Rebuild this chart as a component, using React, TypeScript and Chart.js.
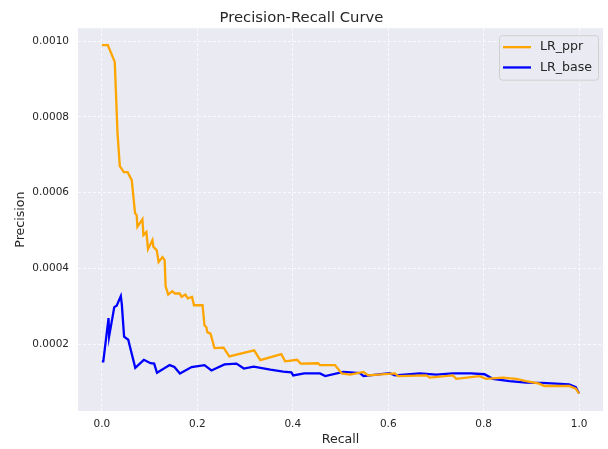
import React, { useEffect, useRef } from "react";
import { Chart, registerables } from "chart.js";

Chart.register(...registerables);

const recallPpr = [0, 0.0125, 0.027, 0.0328, 0.0376, 0.046, 0.054, 0.0626, 0.0695, 0.073, 0.0745, 0.085, 0.087, 0.0933, 0.0967, 0.106, 0.108, 0.115, 0.119, 0.127, 0.1315, 0.1336, 0.139, 0.1476, 0.153, 0.163, 0.167, 0.175, 0.18, 0.189, 0.193, 0.211, 0.215, 0.219, 0.221, 0.2276, 0.236, 0.255, 0.267, 0.319, 0.332, 0.376, 0.384, 0.409, 0.4165, 0.453, 0.457, 0.4885, 0.5025, 0.52, 0.548, 0.558, 0.614, 0.621, 0.68, 0.687, 0.7355, 0.7426, 0.791, 0.805, 0.84, 0.868, 0.889, 0.9165, 0.927, 0.979, 0.993, 1.0];
const precisionPpr = [0.000989, 0.000989, 0.000945, 0.000757, 0.00067, 0.000654, 0.000654, 0.000633, 0.000546, 0.00054, 0.00051, 0.00053, 0.000488, 0.000496, 0.000451, 0.000475, 0.000457, 0.000448, 0.000417, 0.00043, 0.000422, 0.000353, 0.000331, 0.00034, 0.000334, 0.000334, 0.000325, 0.000331, 0.000321, 0.000325, 0.000303, 0.000303, 0.00025, 0.000245, 0.000232, 0.000228, 0.00019, 0.000191, 0.000168, 0.000184, 0.000158, 0.000174, 0.000155, 0.000159, 0.000149, 0.00015, 0.000145, 0.000145, 0.000123, 0.00012, 0.000127, 0.000118, 0.000123, 0.000116, 0.000118, 0.000112, 0.000118, 0.000109, 0.000116, 0.000109, 0.000112, 0.000109, 0.000103, 0.000096, 0.00009, 0.00009, 0.000083, 0.00007];

const recallBase = [0, 0.003, 0.014, 0.0152, 0.026, 0.031, 0.0397, 0.0418, 0.0466, 0.0553, 0.059, 0.07, 0.088, 0.102, 0.1096, 0.1155, 0.142, 0.152, 0.1635, 0.188, 0.215, 0.2296, 0.257, 0.282, 0.2975, 0.318, 0.353, 0.38, 0.397, 0.401, 0.424, 0.457, 0.468, 0.506, 0.541, 0.548, 0.603, 0.614, 0.666, 0.701, 0.7355, 0.774, 0.8017, 0.819, 0.854, 0.889, 0.923, 0.979, 0.993, 1.0];
const precisionBase = [0.000155, 0.000155, 0.000269, 0.000221, 0.000298, 0.000302, 0.000327, 0.000306, 0.00022, 0.000212, 0.000193, 0.000138, 0.000159, 0.00015, 0.000149, 0.000125, 0.000145, 0.00014, 0.000123, 0.00014, 0.000145, 0.000131, 0.000147, 0.000149, 0.000136, 0.000141, 0.000133, 0.000128, 0.000126, 0.000118, 0.000123, 0.000123, 0.000116, 0.000127, 0.000124, 0.000116, 0.000124, 0.000118, 0.000123, 0.00012, 0.000123, 0.000123, 0.000121, 0.000109, 0.000103, 0.000099, 0.000098, 0.000094, 0.000087, 0.00007];

const xTicks = [0, 0.2, 0.4, 0.6, 0.8, 1.0];
const yTicks = [0.0002, 0.0004, 0.0006, 0.0008, 0.001];
const seriesLabels = ["LR_ppr", "LR_base"];
const seriesColors = ["#FFA500", "#0000FF"];

const FONT = "'DejaVu Sans', sans-serif";
const TEXT = "#262626";

const bgPlugin = {
  id: "bgPlugin",
  beforeDraw(chart: any) {
    const { ctx, chartArea } = chart;
    ctx.save();
    ctx.fillStyle = "#ffffff";
    ctx.fillRect(0, 0, chart.width, chart.height);
    ctx.fillStyle = "#EAEAF2";
    ctx.fillRect(chartArea.left, chartArea.top, chartArea.right - chartArea.left, chartArea.bottom - chartArea.top);
    ctx.restore();
  },
};

const legendPlugin = {
  id: "boxLegend",
  afterDatasetsDraw(chart: any) {
    const { ctx, chartArea } = chart;
    const w = 99;
    const h = 44.5;
    const x0 = chartArea.right - 4.5 - w;
    const y0 = chartArea.top + 7.5;
    ctx.save();
    ctx.beginPath();
    const r = 3;
    ctx.moveTo(x0 + r, y0);
    ctx.lineTo(x0 + w - r, y0);
    ctx.arcTo(x0 + w, y0, x0 + w, y0 + r, r);
    ctx.lineTo(x0 + w, y0 + h - r);
    ctx.arcTo(x0 + w, y0 + h, x0 + w - r, y0 + h, r);
    ctx.lineTo(x0 + r, y0 + h);
    ctx.arcTo(x0, y0 + h, x0, y0 + h - r, r);
    ctx.lineTo(x0, y0 + r);
    ctx.arcTo(x0, y0, x0 + r, y0, r);
    ctx.closePath();
    ctx.fillStyle = "rgba(234,234,242,0.8)";
    ctx.fill();
    ctx.strokeStyle = "#d0d0d0";
    ctx.lineWidth = 1;
    ctx.stroke();
    chart.data.datasets.forEach((ds: any, i: number) => {
      const yy = y0 + 11.5 + i * 20.3;
      ctx.beginPath();
      ctx.moveTo(x0 + 3.5, yy);
      ctx.lineTo(x0 + 31.5, yy);
      ctx.strokeStyle = ds.borderColor;
      ctx.lineWidth = 2.3;
      ctx.stroke();
      ctx.fillStyle = TEXT;
      ctx.font = `12.6px ${FONT}`;
      ctx.textBaseline = "middle";
      ctx.textAlign = "left";
      ctx.fillText(ds.label, x0 + 40.5, yy);
    });
    ctx.restore();
  },
};

export default function App() {
  const ref = useRef<HTMLCanvasElement | null>(null);
  useEffect(() => {
    document.body.style.margin = "0";
    if (!ref.current) return;
    const makeData = (xs: number[], ys: number[]) => xs.map((x, i) => ({ x, y: ys[i] }));
    const chart = new Chart(ref.current, {
      type: "line",
      data: {
        datasets: [
          {
            label: seriesLabels[0],
            data: makeData(recallPpr, precisionPpr),
            borderColor: seriesColors[0],
            backgroundColor: seriesColors[0],
            borderWidth: 2.3,
            pointRadius: 0,
            tension: 0,
            fill: false,
          },
          {
            label: seriesLabels[1],
            data: makeData(recallBase, precisionBase),
            borderColor: seriesColors[1],
            backgroundColor: seriesColors[1],
            borderWidth: 2.3,
            pointRadius: 0,
            tension: 0,
            fill: false,
          },
        ],
      },
      options: {
        animation: false,
        responsive: false,
        layout: { padding: { left: 0, right: 5, top: 0, bottom: 0 } },
        plugins: {
          legend: { display: false },
          tooltip: { enabled: false },
          title: {
            display: true,
            text: "Precision-Recall Curve",
            color: TEXT,
            font: { family: FONT, size: 14.8, weight: "normal" },
            padding: { top: 9, bottom: 1.4 },
          },
        },
        scales: {
          x: {
            type: "linear",
            min: -0.05,
            max: 1.05,
            afterBuildTicks: (s: any) => {
              s.ticks = xTicks.map((v) => ({ value: v }));
            },
            afterFit: (s: any) => {
              s.height = 38;
            },
            ticks: {
              color: TEXT,
              font: { family: FONT, size: 10.5 },
              padding: 7,
              maxRotation: 0,
              callback: (v: any) => Number(v).toFixed(1),
            },
            grid: { color: "rgba(255,255,255,0.95)", lineWidth: 0.8, drawTicks: false, tickLength: 0 },
            border: { display: false, dash: [3, 2] },
            title: {
              display: true,
              text: "Recall",
              color: TEXT,
              font: { family: FONT, size: 12.6 },
              padding: { top: 0, bottom: 1.5 },
            },
          },
          y: {
            type: "linear",
            min: 0.000024,
            max: 0.001034,
            afterBuildTicks: (s: any) => {
              s.ticks = yTicks.map((v) => ({ value: v }));
            },
            afterFit: (s: any) => {
              s.width = 78;
            },
            ticks: {
              color: TEXT,
              font: { family: FONT, size: 10.5 },
              padding: 9,
              callback: (v: any) => Number(v).toFixed(4),
            },
            grid: { color: "rgba(255,255,255,0.95)", lineWidth: 0.8, drawTicks: false, tickLength: 0 },
            border: { display: false, dash: [3, 2] },
            title: {
              display: true,
              text: "Precision",
              color: TEXT,
              font: { family: FONT, size: 12.6 },
              padding: { top: 13.5, bottom: 0 },
            },
          },
        },
      } as any,
      plugins: [bgPlugin, legendPlugin],
    });
    return () => chart.destroy();
  }, []);
  return (
    <div style={{ width: 608, height: 449 }}>
      <canvas ref={ref} width={608} height={449} style={{ width: 608, height: 449, display: "block" }} />
    </div>
  );
}
